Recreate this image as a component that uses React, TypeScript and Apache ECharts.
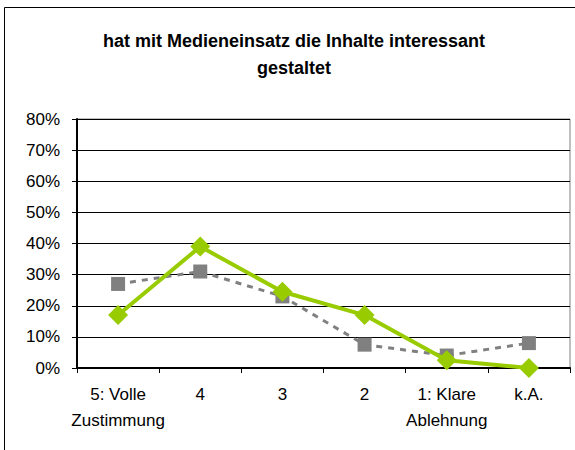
import React, { useEffect, useRef } from "react";
import * as echarts from "echarts";

const categories = ["5: Volle\nZustimmung", "4", "3", "2", "1: Klare\nAblehnung", "k.A."];
const seriesGreen = [17, 39, 24.5, 17, 2.5, 0];
const seriesGray = [27, 31, 23, 7.5, 4, 8];
const yTicks = [0, 10, 20, 30, 40, 50, 60, 70, 80];

export default function App() {
  const ref = useRef<HTMLDivElement>(null);
  useEffect(() => {
    const chart = echarts.init(ref.current!, null, { renderer: "svg" });
    chart.setOption({
      animation: false,
      backgroundColor: "#ffffff",
      title: {
        text: "hat mit Medieneinsatz die Inhalte interessant\ngestaltet",
        left: 289,
        textAlign: "center",
        top: 22,
        textStyle: {
          fontFamily: "Liberation Sans, Arial",
          fontSize: 18,
          fontWeight: "bold",
          color: "#000",
          lineHeight: 27,
        },
      },
      graphic: [
        {
          type: "rect",
          shape: { x: 4.5, y: 7.5, width: 600, height: 480 },
          style: { fill: "none", stroke: "#000", lineWidth: 1 },
          silent: true,
        },
      ],
      grid: { left: 77, right: 5, top: 119, bottom: 82, show: true, borderColor: "#808080", borderWidth: 1 },
      xAxis: {
        type: "category",
        data: categories,
        boundaryGap: true,
        axisLine: { lineStyle: { color: "#000", width: 2 } },
        axisTick: { show: true, length: 5, lineStyle: { color: "#000" } },
        axisLabel: {
          color: "#000",
          fontFamily: "Liberation Sans, Arial",
          fontSize: 17,
          lineHeight: 26,
          margin: 13,
          interval: 0,
        },
      },
      yAxis: {
        type: "value",
        min: 0,
        max: 80,
        interval: 10,
        axisLine: { show: true, lineStyle: { color: "#000", width: 2 } },
        axisTick: { show: true, length: 5, lineStyle: { color: "#000" } },
        splitLine: { show: true, lineStyle: { color: "#000", width: 1 } },
        axisLabel: {
          color: "#000",
          fontFamily: "Liberation Sans, Arial",
          fontSize: 17,
          margin: 17,
          formatter: (v: number) => (yTicks.includes(v) ? v + "%" : ""),
        },
      },
      series: [
        {
          name: "gray",
          type: "line",
          data: seriesGray,
          symbol: "rect",
          symbolSize: 14,
          lineStyle: { color: "#808080", width: 3, type: [6, 6] },
          itemStyle: { color: "#808080" },
          z: 2,
        },
        {
          name: "green",
          type: "line",
          data: seriesGreen,
          symbol: "diamond",
          symbolSize: 20,
          lineStyle: { color: "#99cc00", width: 4 },
          itemStyle: { color: "#99cc00" },
          z: 3,
        },
      ],
    });
    return () => chart.dispose();
  }, []);
  return (
    <div
      ref={ref}
      style={{ position: "fixed", left: 0, top: 0, width: 575, height: 450 }}
    />
  );
}
